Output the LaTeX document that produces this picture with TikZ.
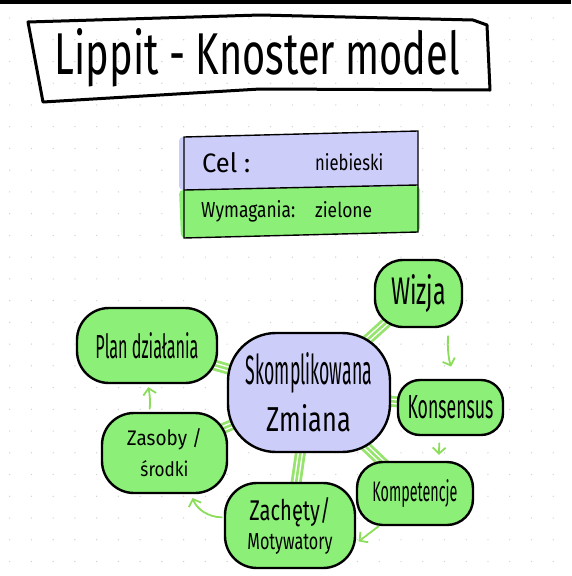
\documentclass[tikz,border=0pt]{standalone}
\usepackage{fontspec}
\usepackage{graphicx}
\newfontfamily\hand{Fira Sans}
\usetikzlibrary{arrows.meta,backgrounds}
\definecolor{lav}{RGB}{205,205,250}
\definecolor{hgreen}{RGB}{140,240,120}
\definecolor{cgreen}{RGB}{150,228,110}
\definecolor{agreen}{RGB}{140,222,90}
\definecolor{dotgray}{RGB}{208,208,208}
\newcommand{\hw}[3]{\resizebox{#1pt}{#2pt}{\hand #3}}
\begin{document}
\begin{tikzpicture}[x=1pt,y=-1pt,
  blob/.style={draw=black, line width=2.4pt, fill=hgreen, rounded corners=#1, inner sep=0pt, align=center},
  blob/.default=25pt,
  txt/.style={inner sep=0pt, anchor=base},
  conn/.style={draw=cgreen, line width=2.6pt,
    preaction={draw=cgreen, line width=11pt},
    preaction={draw=white, line width=5.4pt}},
  flow/.style={draw=agreen, line width=1.8pt, line cap=round,
    -{Straight Barb[length=6pt,width=13pt,line width=1.8pt]}}]
\useasboundingbox (0,0) rectangle (571,576);
% top bar
\fill[black] (0,0) rectangle (571,3.5);
% title
\draw[line width=3pt, line join=round] (28,22) -- (260,15) -- (473,20) -- (487,25) -- (490,90) -- (260,89) -- (43,102) -- cycle;
\node[txt] (title) at (257.5,74) {\hw{405}{46}{Lippit - Knoster model}};
% legend
\fill[lav, rounded corners=4pt] (179,137) -- (418,131) -- (418,186) -- (179,190) -- cycle;
\fill[hgreen, rounded corners=4pt] (179,190) -- (420,186) -- (420,232) -- (181,238) -- cycle;
\draw[line width=1.4pt] (184,137) -- (418,131) -- (418,232) -- (184,238) -- cycle;
\draw[line width=1.4pt] (184,190) -- (418,185);
\node[txt, anchor=base west] (cel) at (202,172) {\hw{48}{20}{Cel :}};
\node[txt, anchor=base west] (nieb) at (315,170) {\hw{68}{17}{niebieski}};
\node[txt, anchor=base west] (wym) at (201,217) {\hw{94}{17}{Wymagania:}};
\node[txt, anchor=base west] (ziel) at (315,217) {\hw{57}{16}{zielone}};
% blobs
\node[blob=48pt, fill=lav, minimum width=162pt, minimum height=119pt,
  font=\fontsize{10}{47}\selectfont] (centre) at (309,392.5)
  {\hw{126}{32}{Skomplikowana}\\\hw{84}{27}{Zmiana}};
\node[blob=28pt, minimum width=87pt, minimum height=67pt] (wizja) at (418.5,293.5) {\hw{55}{30}{Wizja}};
\node[blob=22pt, minimum width=105pt, minimum height=55pt] (kons) at (450.5,407.5) {\hw{86}{23}{Konsensus}};
\node[blob=26pt, minimum width=116pt, minimum height=63pt] (komp) at (415,493.5) {\hw{85}{22}{Kompetencje}};
\node[blob=32pt, minimum width=130pt, minimum height=85pt,
  font=\fontsize{10}{29}\selectfont] (zach) at (290,525.5)
  {\hw{81}{23}{Zachęty/}\\\hw{85}{16}{Motywatory}};
\node[blob=32pt, minimum width=125pt, minimum height=80pt,
  font=\fontsize{10}{31}\selectfont] (zas) at (164.5,453)
  {\hw{75}{17}{Zasoby /}\\\hw{48}{16}{środki}};
\node[blob=32pt, minimum width=140pt, minimum height=75pt] (plan) at (147,345.5) {\hw{103}{26}{Plan działania}};
% cycle arrows
\draw[flow, shorten <=8pt, shorten >=13pt] (wizja.-49) to[bend right=12] (kons.80);
\draw[flow, shorten <=7pt, shorten >=6pt] (kons.-111) to (komp.54);
\draw[flow, shorten >=3pt] (komp.-138) to (zach.-15);
\draw[flow, shorten <=2pt, shorten >=4pt] (zach.173) to[bend left=35] (zas.-57.5);
\draw[flow, shorten <=3pt, shorten >=3pt] (zas.110) to[bend right=8] (plan.-89);
% background: white, dots, connectors
\begin{scope}[on background layer]
  \fill[white] (0,0) rectangle (571,576);
  \foreach \i in {0,...,25} \foreach \j in {0,...,25}
    \fill[dotgray] (9.7+21.74*\i, 18+21.74*\j) circle (0.7pt);
  \foreach \t in {wizja,kons,komp,zach,zas,plan}
    \draw[conn] (centre.center) -- (\t.center);
\end{scope}
\end{tikzpicture}
\end{document}
